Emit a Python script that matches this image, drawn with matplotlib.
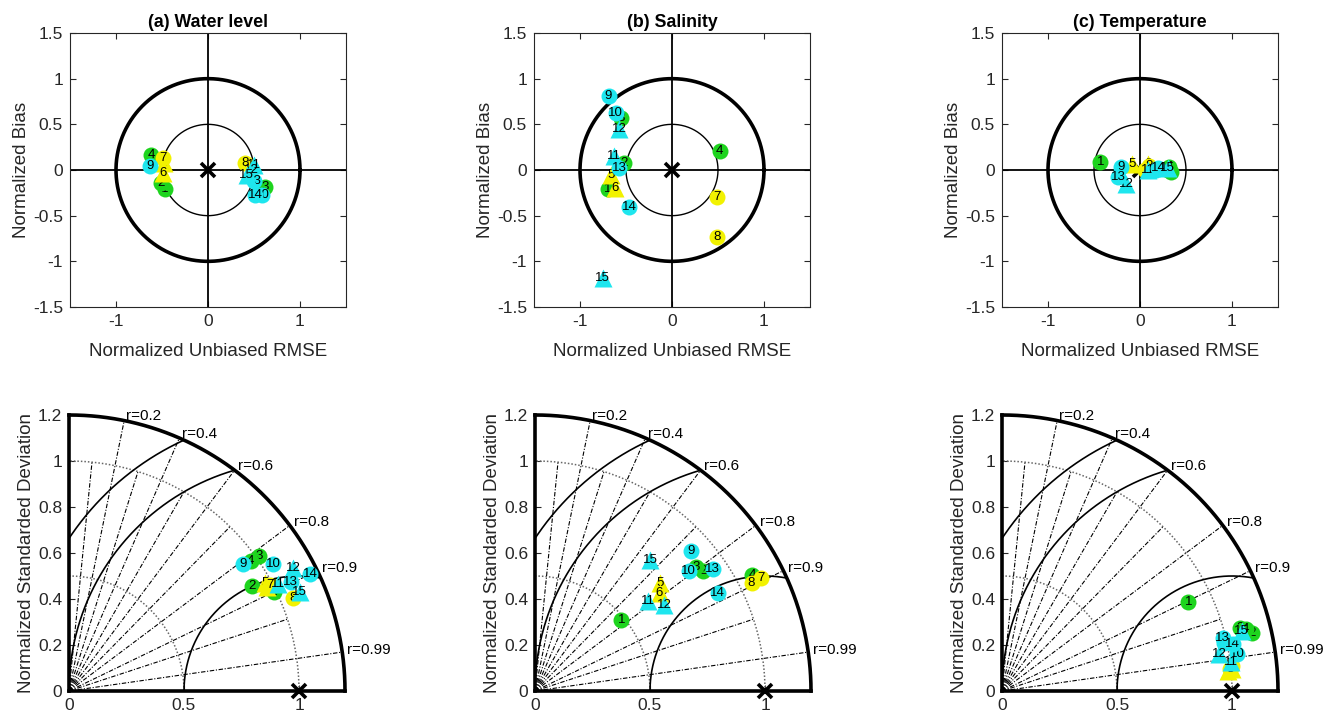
import numpy as np
import matplotlib
matplotlib.use('Agg')
import matplotlib.pyplot as plt

plt.rcParams['font.family'] = ['Liberation Sans', 'DejaVu Sans']
plt.rcParams['axes.unicode_minus'] = False

# ---------------- data ----------------
ids = list(range(1, 16))
groups = ['g', 'g', 'g', 'g', 'y', 'y', 'y', 'y', 'c', 'c', 'c', 'c', 'c', 'c', 'c']
shapes = ['o', 'o', 'o', 'o', '^', '^', 'o', 'o', 'o', 'o', '^', '^', 'o', 'o', '^']
palette = {'g': '#1ed41e', 'y': '#f2f200', 'c': '#1ee6ee'}

titles = ['(a) Water level', '(b) Salinity', '(c) Temperature']

# target diagram: normalized unbiased RMSE (signed) and normalized bias
wl_urmse = [-0.47, -0.506, 0.62, -0.615, -0.48, -0.49, -0.49, 0.405, -0.63, 0.587, 0.495, 0.47, 0.50, 0.51, 0.42]
wl_bias = [-0.21, -0.14, -0.19, 0.165, 0.08, -0.03, 0.135, 0.073, 0.044, -0.27, 0.06, 0.0, -0.12, -0.27, -0.05]

sal_urmse = [-0.70, -0.52, -0.555, 0.52, -0.663, -0.616, 0.494, 0.487, -0.69, -0.61, -0.627, -0.573, -0.573, -0.465, -0.753]
sal_bias = [-0.21, 0.08, 0.57, 0.21, -0.05, -0.195, -0.30, -0.73, 0.81, 0.62, 0.155, 0.45, 0.02, -0.41, -1.18]

tmp_urmse = [-0.43, 0.335, 0.30, 0.32, -0.09, 0.083, 0.05, 0.10, -0.205, 0.17, 0.083, -0.15, -0.235, 0.20, 0.30]
tmp_bias = [0.086, -0.02, 0.0, 0.03, 0.068, 0.068, 0.0, 0.04, 0.03, 0.0, 0.0, -0.15, -0.08, 0.02, 0.02]

# taylor diagram: normalized standard deviation and correlation
wl_std = [0.988, 0.917, 1.016, 0.970, 0.973, 0.971, 0.989, 1.054, 0.935, 1.047, 1.021, 1.112, 1.075, 1.166, 1.092]
wl_cor = [0.900, 0.867, 0.815, 0.814, 0.876, 0.886, 0.884, 0.923, 0.808, 0.849, 0.891, 0.877, 0.897, 0.900, 0.919]

sal_std = [0.487, 0.899, 0.884, 1.071, 0.719, 0.689, 1.097, 1.052, 0.911, 0.848, 0.627, 0.675, 0.937, 0.901, 0.759]
sal_cor = [0.771, 0.814, 0.792, 0.882, 0.758, 0.786, 0.894, 0.895, 0.744, 0.788, 0.783, 0.834, 0.824, 0.881, 0.660]

tmp_std = [0.897, 1.115, 1.071, 1.094, 0.988, 1.005, 1.006, 0.995, 0.988, 1.035, 1.002, 0.958, 0.987, 1.023, 1.074]
tmp_cor = [0.903, 0.974, 0.967, 0.969, 0.996, 0.9955, 0.994, 0.9955, 0.977, 0.988, 0.992, 0.986, 0.972, 0.980, 0.970]

corr_labels = [0.2, 0.4, 0.6, 0.8, 0.9, 0.99]     # lines to outer arc, labelled
corr_minor = [0.1, 0.3, 0.5, 0.7, 0.95]            # shorter, unlabelled lines
rms_arcs = [0.5, 1.0, 1.2]
std_arcs = [0.5, 1.0]

# ---------------- figure ----------------
W, H = 1336, 718
fig = plt.figure(figsize=(W / 100, H / 100), dpi=100)
tc = '#262626'


def draw_points(ax, xs, ys):
    for i in range(len(ids)):
        z = 10 + 2 * i
        ax.plot(xs[i], ys[i], marker=shapes[i], color=palette[groups[i]],
                ms=11.5 if shapes[i] == 'o' else 12.5, mec='none', ls='none', zorder=z, clip_on=False)
        ax.text(xs[i], ys[i], str(ids[i]), ha='center', va='center',
                fontsize=9.5, color='k', zorder=z + 1)


def target(ax, xs, ys, title):
    t = np.linspace(0, 2 * np.pi, 500)
    ax.plot(np.cos(t), np.sin(t), color='k', lw=2.6, zorder=3)
    ax.plot(0.5 * np.cos(t), 0.5 * np.sin(t), color='k', lw=1.0, zorder=3)
    ax.axhline(0, color='k', lw=1.3, zorder=2)
    ax.axvline(0, color='k', lw=1.3, zorder=2)
    ax.plot([0], [0], marker='x', color='k', ms=10, mew=2.6, zorder=4)
    draw_points(ax, xs, ys)
    ax.set_xlim(-1.5, 1.5)
    ax.set_ylim(-1.5, 1.5)
    ax.set_xticks([-1, 0, 1])
    ax.set_xticklabels(['-1', '0', '1'])
    yt = [-1.5, -1, -0.5, 0, 0.5, 1, 1.5]
    ax.set_yticks(yt)
    ax.set_yticklabels(['-1.5', '-1', '-0.5', '0', '0.5', '1', '1.5'])
    ax.tick_params(direction='in', length=4, width=0.8, labelsize=12.5, colors=tc,
                   top=True, right=True, pad=5)
    for s in ax.spines.values():
        s.set_color(tc)
        s.set_linewidth(0.8)
    ax.set_xlabel('Normalized Unbiased RMSE', fontsize=13.5, color=tc, labelpad=10)
    ax.set_ylabel('Normalized Bias', fontsize=13.5, color=tc, labelpad=2)
    ax.set_title(title, fontsize=12.8, fontweight='bold', color='k', pad=4)


def taylor(ax, std, cor):
    R = 1.2
    th = np.linspace(0, np.pi / 2, 400)
    for r in std_arcs:
        ax.plot(r * np.cos(th), r * np.sin(th), color='0.4', lw=1.1, ls=(0, (1, 1.3)), zorder=2)
    phi = np.linspace(0, np.pi, 2000)
    for rr in rms_arcs:
        x = 1 + rr * np.cos(phi)
        y = rr * np.sin(phi)
        m = (x ** 2 + y ** 2 <= R ** 2 + 1e-9) & (x >= 0)
        ax.plot(np.where(m, x, np.nan), np.where(m, y, np.nan), color='k', lw=1.2, zorder=2)
    dashdot = (0, (4, 1.5, 1, 1.5))
    for c in corr_labels:
        a = np.arccos(c)
        ax.plot([0, R * np.cos(a)], [0, R * np.sin(a)], color='k', lw=0.8, ls=dashdot, zorder=2)
        ax.text(1.215 * np.cos(a) + 0.005, 1.215 * np.sin(a) + 0.005, 'r=%g' % c,
                ha='left', va='center', fontsize=11, color='k', clip_on=False)
    for c in corr_minor:
        a = np.arccos(c)
        ax.plot([0, np.cos(a)], [0, np.sin(a)], color='k', lw=0.8, ls=dashdot, zorder=2)
    ax.plot(R * np.cos(th), R * np.sin(th), color='k', lw=2.6, zorder=3, clip_on=False)
    ax.plot([1], [0], marker='x', color='k', ms=10, mew=2.6, zorder=40, clip_on=False)
    xs = [s * c for s, c in zip(std, cor)]
    ys = [s * np.sqrt(1 - c ** 2) for s, c in zip(std, cor)]
    draw_points(ax, xs, ys)
    ax.set_xlim(0, R)
    ax.set_ylim(0, R)
    ax.set_xticks([0, 0.5, 1])
    ax.set_xticklabels(['0', '0.5', '1'])
    ax.set_yticks([0, 0.2, 0.4, 0.6, 0.8, 1.0, 1.2])
    ax.set_yticklabels(['0', '0.2', '0.4', '0.6', '0.8', '1', '1.2'])
    ax.tick_params(direction='in', length=4, width=0.8, labelsize=12.5, colors=tc, pad=5)
    ax.spines['top'].set_visible(False)
    ax.spines['right'].set_visible(False)
    for k in ['left', 'bottom']:
        ax.spines[k].set_linewidth(2.6)
        ax.spines[k].set_color('k')
        ax.spines[k].set_capstyle('projecting')
    ax.set_ylabel('Normalized Standarded Deviation', fontsize=13.5, color=tc, labelpad=2)


tops = [(wl_urmse, wl_bias), (sal_urmse, sal_bias), (tmp_urmse, tmp_bias)]
tays = [(wl_std, wl_cor), (sal_std, sal_cor), (tmp_std, tmp_cor)]
lefts_top = [70, 534, 1002]
lefts_bot = [69, 535, 1002]

for k in range(3):
    ax = fig.add_axes([lefts_top[k] / W, 1 - 307 / H, 276 / W, 274 / H])
    target(ax, tops[k][0], tops[k][1], titles[k])
    ax2 = fig.add_axes([lefts_bot[k] / W, 1 - 691 / H, 276 / W, 276 / H])
    taylor(ax2, tays[k][0], tays[k][1])

fig.savefig('out.png', dpi=100, facecolor='white')
